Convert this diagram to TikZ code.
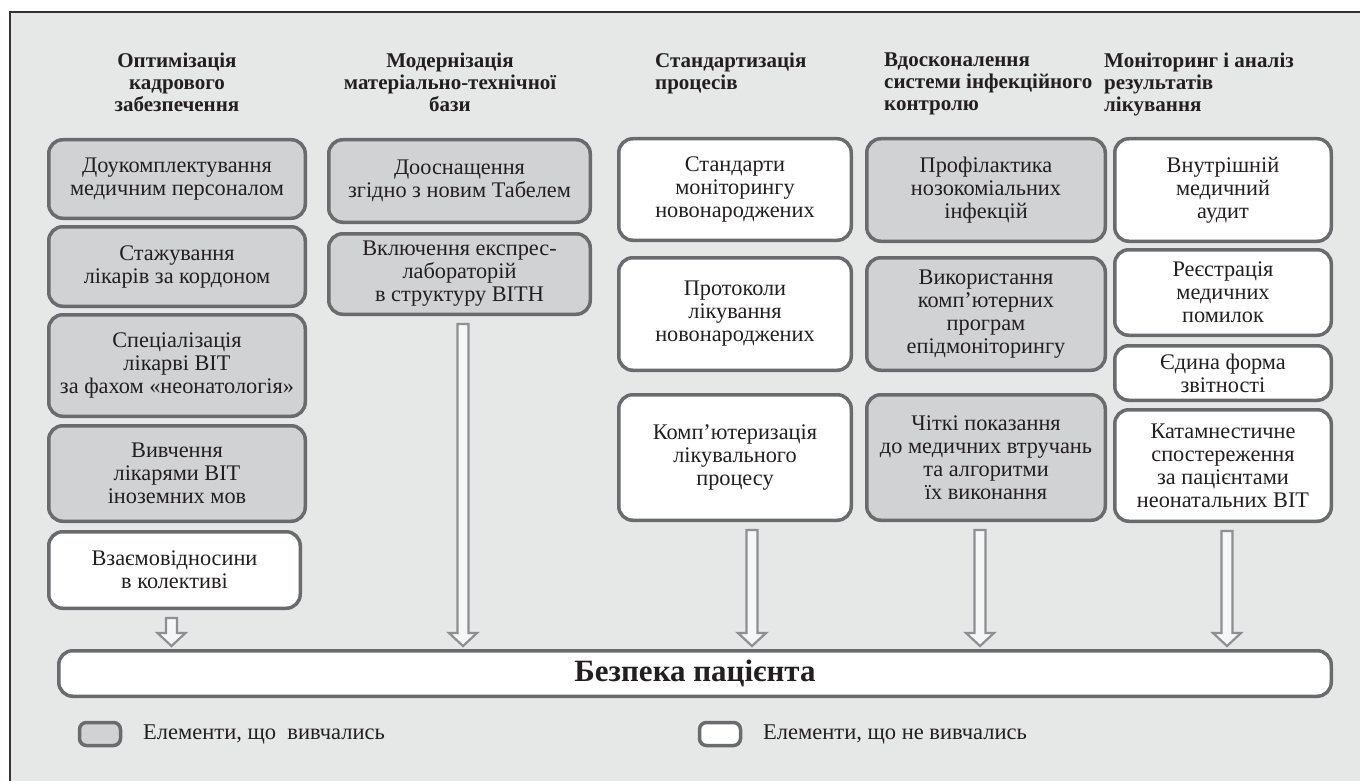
\documentclass[tikz,border=0pt]{standalone}
\usepackage{fontspec}
\setmainfont{Liberation Serif}
\usetikzlibrary{calc}
\definecolor{bg}{HTML}{E6E7E7}
\definecolor{boxgray}{HTML}{D1D2D4}
\definecolor{boxline}{HTML}{6A6B6E}
\definecolor{arrline}{HTML}{8E8F91}
\definecolor{arrfill}{HTML}{F5F6F6}
\definecolor{ink}{HTML}{231F20}
\definecolor{frame}{HTML}{333333}
\newcommand\mybox[7]{%
  \node[#6, minimum width={(#4-#2-3.5)*1pt}, minimum height={(#5-#3-3.5)*1pt}] (#1) at ({(#2+#4)/2},{(#3+#5)/2}) {#7};}
\newcommand\blockarr[2]{%
  \draw[blockarrow] let \p1=(#1), \p2=(#2.north) in
    (\x1-5.5pt,\y1-8pt) -- (\x1-5.5pt,\y2+16pt) -- (\x1-14pt,\y2+16pt) -- (\x1,\y2+3pt)
    -- (\x1+14pt,\y2+16pt) -- (\x1+5.5pt,\y2+16pt) -- (\x1+5.5pt,\y1-8pt) -- cycle;}
\tikzset{
  box/.style={rectangle, rounded corners=14pt, line width=3.5pt, draw=boxline, align=center,
    inner sep=0pt, text=ink, font=\fontsize{22.3}{23}\selectfont},
  gbox/.style={box, fill=boxgray},
  wbox/.style={box, fill=white},
  head/.style={inner sep=0pt, text=ink, font=\bfseries\fontsize{21}{22}\selectfont},
  legtext/.style={inner sep=0pt, text=ink, anchor=west, font=\fontsize{22.5}{24}\selectfont},
  blockarrow/.style={draw=arrline, fill=arrfill, line width=2.2pt, line join=miter},
}
\begin{document}
\begin{tikzpicture}[x=1pt, y=-1pt]
\useasboundingbox (0,0) rectangle (1360,781);
\fill[white] (0,0) rectangle (1360,781);
\draw[fill=bg, draw=frame, line width=1.3pt] (10,12) rectangle (1375,800);

% headers
\node[head, align=center, anchor=north] (h1) at (177,53) {Оптимізація\\кадрового\\забезпечення};
\node[head, align=center, anchor=north] (h2) at (450,53) {Модернізація\\матеріально-технічної\\бази};
\node[head, align=left, anchor=north west] (h3) at (655,53) {Стандартизація\\процесів};
\node[head, align=left, anchor=north west] (h4) at (884,53) {Вдосконалення\\системи інфекційного\\контролю};
\node[head, align=left, anchor=north west] (h5) at (1104,53) {Моніторинг і аналіз\\результатів\\лікування};

% column 1
\mybox{c1a}{47}{138}{307}{220}{gbox}{Доукомплектування\\медичним персоналом}
\mybox{c1b}{47}{225}{307}{308}{gbox}{Стажування\\лікарів за кордоном}
\mybox{c1c}{47}{313}{307}{418}{gbox}{Спеціалізація\\лікарві ВІТ\\за фахом «неонатологія»}
\mybox{c1d}{47}{424}{307}{523}{gbox}{Вивчення\\лікарями ВІТ\\іноземних мов}
\mybox{c1e}{47}{530}{302}{610}{wbox}{Взаємовідносини\\в колективі}
% column 2
\mybox{c2a}{327}{138}{592}{224}{gbox}{Дооснащення\\згідно з новим Табелем}
\mybox{c2b}{327}{232}{592}{316}{gbox}{Включення експрес-\\лабораторій\\в структуру ВІТН}
% column 3
\mybox{c3a}{617}{137}{853}{242}{wbox}{Стандарти\\моніторингу\\новонароджених}
\mybox{c3b}{617}{256}{853}{372}{wbox}{Протоколи\\лікування\\новонароджених}
\mybox{c3c}{617}{393}{853}{522}{wbox}{Комп’ютеризація\\лікувального\\процесу}
% column 4
\mybox{c4a}{865}{137}{1107}{243}{gbox}{Профілактика\\нозокоміальних\\інфекцій}
\mybox{c4b}{865}{256}{1107}{372}{gbox}{Використання\\комп’ютерних\\програм\\епідмоніторингу}
\mybox{c4c}{865}{393}{1107}{522}{gbox}{Чіткі показання\\до медичних втручань\\та алгоритми\\їх виконання}
% column 5
\mybox{c5a}{1113}{137}{1333}{243}{wbox}{Внутрішній\\медичний\\аудит}
\mybox{c5b}{1113}{248}{1333}{337}{wbox}{Реєстрація\\медичних\\помилок}
\mybox{c5c}{1113}{344}{1333}{402}{wbox}{Єдина форма\\звітності}
\mybox{c5d}{1113}{408}{1333}{523}{wbox}{Катамнестичне\\спостереження\\за пацієнтами\\неонатальних ВІТ}

% bottom bar
\mybox{bar}{57}{649}{1333}{698}{wbox}{\bfseries\fontsize{31}{33}\selectfont Безпека пацієнта}

% arrows
\path (c1e.south) ++(-3,0) coordinate (s1);
\path (c2b.south) ++(3.5,0) coordinate (s2);
\path (c3c.south) ++(17,0) coordinate (s3);
\path (c4c.south) ++(-6,0) coordinate (s4);
\path (c5d.south) ++(4,0) coordinate (s5);
\blockarr{s1}{bar}
\blockarr{s2}{bar}
\blockarr{s3}{bar}
\blockarr{s4}{bar}
\blockarr{s5}{bar}

% legend
\node[gbox, rounded corners=7pt, minimum width=41pt, minimum height=23pt] (lg1) at (100,734) {};
\node[legtext] (lt1) at (143,734) {Елементи, що\ \ вивчались};
\node[wbox, rounded corners=7pt, minimum width=41pt, minimum height=23pt] (lg2) at (720,734) {};
\node[legtext] (lt2) at (763,734) {Елементи, що не вивчались};
\end{tikzpicture}
\end{document}
